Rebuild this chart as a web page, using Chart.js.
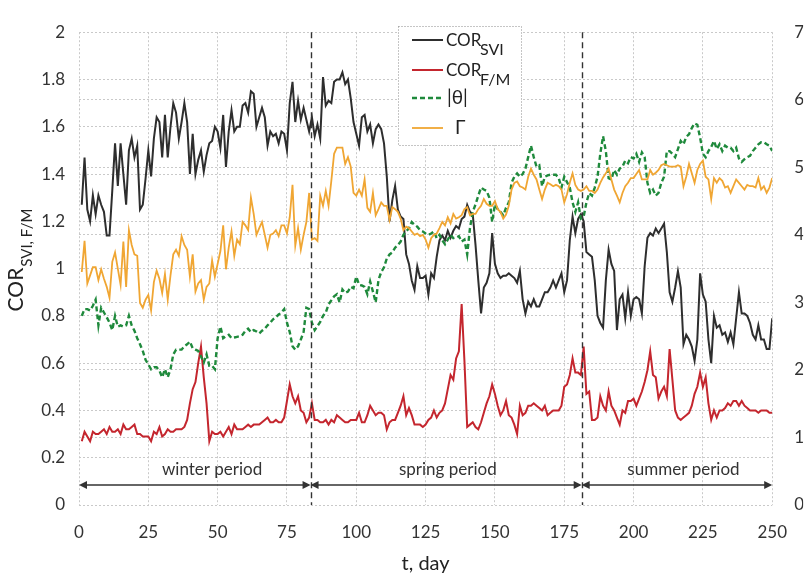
<!DOCTYPE html>
<html>
<head>
<meta charset="utf-8">
<script src="https://cdn.jsdelivr.net/npm/chart.js@4.4.1/dist/chart.umd.min.js"></script>
<style>
    html, body { margin: 0; padding: 0; background: #fff; }
    #wrap { width: 804px; height: 574px; }
</style>
</head>
<body>
<div id="wrap"><canvas id="chart" width="804" height="574"></canvas></div>
<script>
// daily values, day 1 .. 250
const corSvi = [
    1.27, 1.47, 1.25, 1.20, 1.31, 1.23, 1.31, 1.27, 1.24, 1.14,
    1.14, 1.33, 1.53, 1.35, 1.53, 1.40, 1.27, 1.50, 1.55, 1.47,
    1.52, 1.25, 1.27, 1.38, 1.50, 1.39, 1.55, 1.64, 1.62, 1.47,
    1.65, 1.47, 1.60, 1.70, 1.66, 1.55, 1.62, 1.70, 1.62, 1.40,
    1.57, 1.40, 1.46, 1.50, 1.41, 1.48, 1.53, 1.54, 1.60, 1.58,
    1.51, 1.65, 1.43, 1.58, 1.67, 1.58, 1.60, 1.60, 1.69, 1.70,
    1.66, 1.75, 1.74, 1.60, 1.64, 1.68, 1.64, 1.52, 1.58, 1.56,
    1.57, 1.53, 1.58, 1.57, 1.50, 1.70, 1.79, 1.62, 1.71, 1.63,
    1.68, 1.63, 1.58, 1.64, 1.56, 1.61, 1.55, 1.81, 1.69, 1.71,
    1.70, 1.79, 1.80, 1.80, 1.83, 1.78, 1.80, 1.72, 1.62, 1.57,
    1.52, 1.64, 1.65, 1.58, 1.61, 1.53, 1.59, 1.61, 1.59, 1.53,
    1.39, 1.20, 1.29, 1.35, 1.25, 1.22, 1.21, 1.06, 1.02, 0.95,
    0.91, 1.01, 0.96, 0.96, 0.97, 0.89, 0.98, 0.96, 1.05, 1.12,
    1.14, 1.12, 1.16, 1.13, 1.16, 1.18, 1.17, 1.21, 1.22, 1.27,
    1.24, 1.23, 1.10, 0.95, 0.81, 0.92, 0.94, 0.98, 1.15, 1.02,
    0.98, 0.96, 0.97, 0.97, 0.98, 0.97, 0.96, 0.94, 0.99, 0.87,
    0.81, 0.86, 0.84, 0.87, 0.84, 0.84, 0.87, 0.90, 0.90, 0.92,
    0.95, 0.92, 0.95, 0.98, 0.90, 0.95, 1.12, 1.22, 1.15, 1.21,
    1.23, 1.20, 1.07, 1.06, 1.05, 0.95, 0.80, 0.77, 0.75, 0.95,
    1.08, 1.02, 0.99, 0.74, 0.87, 0.89, 0.79, 0.90, 0.80, 0.87,
    0.88, 0.87, 0.81, 1.01, 1.13, 1.15, 1.14, 1.17, 1.15, 1.17,
    1.19, 1.07, 0.90, 0.86, 0.92, 0.99, 0.92, 0.68, 0.72, 0.70,
    0.67, 0.61, 0.70, 0.98, 0.89, 0.86, 0.70, 0.60, 0.80, 0.75,
    0.76, 0.72, 0.73, 0.69, 0.73, 0.68, 0.79, 0.90, 0.81, 0.81,
    0.80, 0.77, 0.72, 0.70, 0.76, 0.70, 0.70, 0.66, 0.66, 0.79
];

const corFm = [
    0.27, 0.31, 0.29, 0.27, 0.31, 0.30, 0.30, 0.31, 0.32, 0.30,
    0.33, 0.31, 0.31, 0.32, 0.30, 0.34, 0.32, 0.32, 0.33, 0.34,
    0.30, 0.30, 0.29, 0.29, 0.29, 0.27, 0.31, 0.30, 0.33, 0.29,
    0.30, 0.32, 0.31, 0.31, 0.32, 0.32, 0.32, 0.33, 0.36, 0.43,
    0.49, 0.52, 0.60, 0.67, 0.54, 0.43, 0.27, 0.31, 0.30, 0.30,
    0.31, 0.29, 0.31, 0.33, 0.30, 0.34, 0.32, 0.32, 0.32, 0.33,
    0.34, 0.33, 0.34, 0.34, 0.34, 0.35, 0.36, 0.37, 0.35, 0.35,
    0.36, 0.35, 0.35, 0.37, 0.44, 0.51, 0.46, 0.43, 0.46, 0.40,
    0.39, 0.35, 0.37, 0.43, 0.36, 0.36, 0.35, 0.35, 0.36, 0.34,
    0.36, 0.35, 0.38, 0.37, 0.36, 0.35, 0.35, 0.36, 0.36, 0.36,
    0.39, 0.35, 0.35, 0.38, 0.42, 0.40, 0.38, 0.39, 0.39, 0.38,
    0.32, 0.35, 0.36, 0.36, 0.39, 0.42, 0.46, 0.38, 0.41, 0.38,
    0.34, 0.34, 0.34, 0.33, 0.34, 0.36, 0.37, 0.40, 0.37, 0.39,
    0.40, 0.43, 0.49, 0.55, 0.53, 0.62, 0.65, 0.85, 0.61, 0.33,
    0.34, 0.35, 0.33, 0.32, 0.35, 0.39, 0.43, 0.46, 0.51, 0.47,
    0.42, 0.38, 0.40, 0.44, 0.38, 0.37, 0.34, 0.30, 0.42, 0.38,
    0.39, 0.42, 0.42, 0.43, 0.42, 0.41, 0.40, 0.42, 0.38, 0.39,
    0.40, 0.40, 0.40, 0.42, 0.50, 0.51, 0.55, 0.62, 0.56, 0.56,
    0.55, 0.67, 0.47, 0.48, 0.36, 0.36, 0.37, 0.46, 0.42, 0.40,
    0.48, 0.42, 0.40, 0.37, 0.34, 0.40, 0.39, 0.44, 0.44, 0.45,
    0.42, 0.45, 0.48, 0.52, 0.57, 0.65, 0.55, 0.54, 0.45, 0.48,
    0.50, 0.46, 0.66, 0.53, 0.40, 0.37, 0.36, 0.37, 0.38, 0.39,
    0.42, 0.47, 0.50, 0.56, 0.50, 0.54, 0.43, 0.36, 0.40, 0.37,
    0.40, 0.40, 0.41, 0.43, 0.42, 0.44, 0.44, 0.42, 0.44, 0.42,
    0.41, 0.40, 0.40, 0.40, 0.39, 0.40, 0.40, 0.40, 0.39, 0.39
];

const theta = [
    2.80, 2.90, 2.90, 2.88, 2.95, 3.04, 2.66, 2.92, 2.85, 2.78,
    2.70, 2.59, 2.80, 2.64, 2.66, 2.64, 2.66, 2.80, 2.66, 2.58,
    2.47, 2.38, 2.28, 2.15, 2.08, 2.01, 2.04, 2.04, 1.99, 1.89,
    2.01, 1.89, 2.01, 2.23, 2.30, 2.30, 2.30, 2.35, 2.38, 2.42,
    2.32, 2.30, 2.28, 2.20, 2.11, 2.23, 2.06, 2.06, 2.01, 2.47,
    2.64, 2.47, 2.50, 2.52, 2.47, 2.48, 2.49, 2.50, 2.52, 2.58,
    2.61, 2.56, 2.59, 2.57, 2.54, 2.58, 2.61, 2.66, 2.70, 2.75,
    2.78, 2.82, 2.85, 2.90, 2.70, 2.56, 2.35, 2.30, 2.35, 2.45,
    2.56, 2.92, 2.90, 2.70, 2.59, 2.65, 2.71, 2.80, 2.85, 2.97,
    3.03, 3.09, 3.12, 3.00, 3.19, 3.14, 3.16, 3.23, 3.21, 3.38,
    3.26, 3.25, 3.23, 3.12, 3.31, 3.16, 3.00, 3.33, 3.45, 3.52,
    3.65, 3.71, 3.74, 3.81, 3.85, 3.90, 4.00, 4.05, 4.10, 4.19,
    4.15, 4.12, 4.07, 4.05, 4.02, 4.00, 4.02, 4.05, 3.95, 4.00,
    3.92, 3.86, 3.93, 4.00, 3.95, 3.96, 3.98, 3.90, 3.93, 3.71,
    4.10, 4.34, 4.45, 4.58, 4.70, 4.67, 4.65, 4.55, 4.19, 4.45,
    4.38, 4.34, 4.29, 4.40, 4.48, 4.77, 4.86, 4.91, 4.86, 4.90,
    4.98, 5.15, 5.32, 5.15, 5.01, 5.03, 4.72, 4.86, 4.88, 4.89,
    4.89, 4.89, 4.84, 4.70, 4.86, 4.78, 4.70, 4.48, 4.34, 4.48,
    4.24, 4.27, 4.48, 4.62, 4.58, 4.70, 4.86, 5.20, 5.46, 5.24,
    4.84, 4.82, 4.96, 4.89, 4.98, 5.01, 5.10, 5.06, 5.15, 5.13,
    5.20, 5.08, 5.22, 5.15, 4.77, 4.62, 4.67, 4.58, 4.62, 4.77,
    4.86, 5.24, 5.24, 5.20, 5.15, 5.27, 5.39, 5.34, 5.45, 5.49,
    5.58, 5.65, 5.63, 5.44, 5.20, 5.15, 5.24, 5.30, 5.39, 5.27,
    5.34, 5.24, 5.32, 5.29, 5.29, 5.24, 5.29, 5.13, 5.08, 5.12,
    5.15, 5.17, 5.24, 5.29, 5.34, 5.37, 5.37, 5.34, 5.32, 5.24
];

const gamma = [
    3.45, 3.91, 3.28, 3.40, 3.52, 3.52, 3.33, 3.49, 3.35, 3.23,
    3.07, 3.60, 3.74, 3.50, 3.26, 3.90, 3.23, 4.07, 3.85, 3.71,
    3.69, 2.99, 2.92, 3.04, 3.11, 2.88, 3.30, 3.47, 3.35, 3.14,
    3.42, 3.04, 3.40, 3.71, 3.78, 3.69, 3.98, 3.85, 3.78, 3.38,
    3.71, 3.16, 3.28, 3.33, 3.04, 3.23, 3.28, 3.62, 3.38, 3.57,
    3.76, 4.14, 3.49, 3.81, 4.05, 3.69, 3.93, 3.86, 4.19, 4.14,
    4.07, 4.55, 4.31, 4.00, 4.10, 4.19, 4.00, 3.81, 4.00, 4.02,
    4.07, 3.98, 4.14, 4.14, 4.02, 4.26, 4.74, 3.84, 4.10, 3.78,
    4.00, 4.19, 4.62, 3.93, 3.95, 3.91, 4.58, 4.43, 4.65, 4.43,
    4.80, 5.20, 5.29, 5.29, 5.29, 5.05, 5.15, 5.01, 4.62, 4.58,
    4.67, 4.58, 4.82, 4.40, 4.34, 4.62, 4.29, 4.38, 4.48, 4.43,
    4.43, 4.22, 4.41, 4.38, 4.34, 4.24, 4.07, 4.12, 4.10, 4.05,
    4.00, 4.02, 3.98, 4.00, 3.93, 3.81, 3.95, 4.00, 4.02, 4.10,
    4.19, 4.14, 4.26, 4.17, 4.31, 4.24, 4.26, 4.29, 4.38, 4.41,
    4.29, 4.31, 4.31, 4.38, 4.43, 4.53, 4.46, 4.43, 4.43, 4.50,
    4.38, 4.34, 4.24, 4.30, 4.43, 4.67, 4.77, 4.79, 4.72, 4.70,
    4.67, 4.86, 4.98, 4.89, 4.82, 4.67, 4.53, 4.67, 4.77, 4.75,
    4.72, 4.74, 4.72, 4.67, 4.48, 4.60, 4.77, 4.91, 4.74, 4.67,
    4.65, 4.67, 4.72, 4.65, 4.65, 4.62, 4.67, 4.77, 4.85, 4.91,
    4.98, 4.82, 4.67, 4.58, 4.48, 4.62, 4.72, 4.77, 4.84, 4.84,
    4.90, 4.96, 4.82, 4.82, 4.82, 4.96, 4.89, 4.92, 4.96, 5.03,
    5.05, 5.03, 5.01, 5.01, 5.01, 5.03, 5.01, 4.72, 4.86, 5.05,
    4.91, 4.77, 4.96, 5.05, 5.10, 4.86, 4.82, 4.53, 4.84, 4.77,
    4.84, 4.80, 4.70, 4.72, 4.62, 4.72, 4.82, 4.77, 4.72, 4.67,
    4.74, 4.72, 4.72, 4.70, 4.84, 4.67, 4.72, 4.62, 4.70, 4.84
];

const days = corSvi.map((_, i) => i + 1);

// period borders (day) and names
const periodBounds = [0, 83.5, 181.3, 250];
const periodNames = ['winter period', 'spring period', 'summer period'];
const periodLabelDays = [48, 133, 218];

const FONT = 'Lato, "Open Sans", sans-serif';
const INK = '#333';
const GRID = '#c9c9c9';

const toPoints = values => values.map((v, i) => ({ x: days[i], y: v }));

const lineSet = (label, values, color, axis, extra) => Object.assign({
    label,
    data: toPoints(values),
    yAxisID: axis,
    borderColor: color,
    backgroundColor: color,
    borderWidth: 2,
    pointRadius: 0,
    tension: 0,
    fill: false,
}, extra);

const arrowHead = (ctx, x, y, dir) => {
    ctx.beginPath();
    ctx.moveTo(x, y);
    ctx.lineTo(x - dir * 8, y - 4);
    ctx.lineTo(x - dir * 8, y + 4);
    ctx.closePath();
    ctx.fill();
};

const overlay = {
    id: 'overlay',
    afterDatasetsDraw(chart) {
        const { ctx, chartArea: a, scales: { x, y } } = chart;
        ctx.save();

        // period separators
        ctx.strokeStyle = INK;
        ctx.lineWidth = 1.4;
        ctx.setLineDash([6, 4]);
        periodBounds.slice(1, -1).forEach(d => {
            const px = Math.round(x.getPixelForValue(d)) + 0.5;
            ctx.beginPath();
            ctx.moveTo(px, a.top);
            ctx.lineTo(px, a.bottom);
            ctx.stroke();
        });
        ctx.setLineDash([]);

        // period arrows and labels
        const ay = y.getPixelForValue(0.085);
        ctx.fillStyle = INK;
        ctx.lineWidth = 1.5;
        for (let i = 0; i < periodNames.length; i++) {
            const x1 = x.getPixelForValue(periodBounds[i]);
            const x2 = x.getPixelForValue(periodBounds[i + 1]);
            ctx.beginPath();
            ctx.moveTo(x1 + 2, ay);
            ctx.lineTo(x2 - 2, ay);
            ctx.stroke();
            arrowHead(ctx, x1, ay, -1);
            arrowHead(ctx, x2, ay, 1);
            ctx.font = `17px ${FONT}`;
            ctx.textAlign = 'center';
            ctx.textBaseline = 'middle';
            ctx.fillText(periodNames[i], x.getPixelForValue(periodLabelDays[i]), y.getPixelForValue(0.152));
        }

        // legend
        const lx = 398, ly = 26, lw = 123, lh = 119;
        ctx.fillStyle = '#fff';
        ctx.fillRect(lx, ly, lw, lh);
        ctx.strokeStyle = '#8a8a8a';
        ctx.lineWidth = 1;
        ctx.setLineDash([1, 2]);
        ctx.strokeRect(lx + 0.5, ly + 0.5, lw, lh);
        const rows = [40, 70, 98, 128];
        chart.data.datasets.forEach((ds, i) => {
            ctx.strokeStyle = ds.borderColor;
            ctx.lineWidth = ds.borderWidth;
            ctx.setLineDash(ds.borderDash || []);
            ctx.beginPath();
            ctx.moveTo(412, rows[i]);
            ctx.lineTo(443, rows[i]);
            ctx.stroke();
        });
        ctx.setLineDash([]);
        ctx.fillStyle = '#222';
        ctx.textAlign = 'left';
        ctx.textBaseline = 'middle';
        ctx.font = `17px ${FONT}`;
        ctx.fillText('COR', 446, rows[0] + 1);
        ctx.fillText('COR', 446, rows[1] + 1);
        ctx.font = `16px ${FONT}`;
        ctx.fillText('SVI', 480, rows[0] + 10);
        ctx.fillText('F/M', 480, rows[1] + 10);
        ctx.font = `19px ${FONT}`;
        ctx.fillText('|θ|', 447, rows[2]);
        ctx.fillText('Γ', 455, rows[3]);

        // axis titles
        ctx.fillStyle = '#222';
        ctx.font = `20px ${FONT}`;
        ctx.textAlign = 'center';
        ctx.fillText('t, day', (a.left + a.right) / 2, 564);

        ctx.translate(23, 260);
        ctx.rotate(-Math.PI / 2);
        ctx.textAlign = 'left';
        ctx.textBaseline = 'alphabetic';
        ctx.font = `21px ${FONT}`;
        const main = 'COR', sub = 'SVI, F/M';
        const wMain = ctx.measureText(main).width;
        ctx.font = `15px ${FONT}`;
        const wSub = ctx.measureText(sub).width;
        const start = -(wMain + wSub + 1) / 2;
        ctx.font = `21px ${FONT}`;
        ctx.fillText(main, start, 0);
        ctx.font = `15px ${FONT}`;
        ctx.fillText(sub, start + wMain + 1, 9);

        ctx.restore();
    }
};

new Chart(document.getElementById('chart'), {
    type: 'line',
    data: {
        datasets: [
            lineSet('COR SVI', corSvi, '#2e2e2e', 'y', { order: 3 }),
            lineSet('COR F/M', corFm, '#c4262e', 'y', { order: 2 }),
            lineSet('|θ|', theta, '#1f8a3c', 'y1', { order: 1, borderDash: [5, 3], borderWidth: 2.4 }),
            lineSet('Γ', gamma, '#f0a633', 'y1', { order: 0, borderWidth: 1.8 }),
        ]
    },
    options: {
        responsive: false,
        animation: false,
        layout: { padding: { top: 18, left: 0, right: 0, bottom: 0 } },
        plugins: {
            legend: { display: false },
            tooltip: { enabled: false },
        },
        scales: {
            x: {
                type: 'linear',
                min: 0,
                max: 250,
                afterFit: s => { s.height = 69; },
                ticks: { stepSize: 25, padding: 17, color: INK, font: { family: FONT, size: 17 } },
                grid: { color: GRID, drawTicks: false },
                border: { display: false, dash: [2, 2] },
            },
            y: {
                position: 'left',
                min: 0,
                max: 2,
                afterFit: s => { s.width = 79; },
                ticks: {
                    stepSize: 0.2,
                    padding: 14,
                    color: INK,
                    font: { family: FONT, size: 17 },
                    callback: v => String(+v.toFixed(1)),
                },
                grid: { color: GRID, drawTicks: false },
                border: { display: false, dash: [2, 2] },
            },
            y1: {
                position: 'right',
                min: 0,
                max: 7,
                afterFit: s => { s.width = 31; },
                ticks: { stepSize: 1, padding: 22, color: INK, font: { family: FONT, size: 17 } },
                grid: { color: GRID, drawTicks: false },
                border: { display: false, dash: [2, 2] },
            },
        }
    },
    plugins: [overlay]
});
</script>
</body>
</html>
